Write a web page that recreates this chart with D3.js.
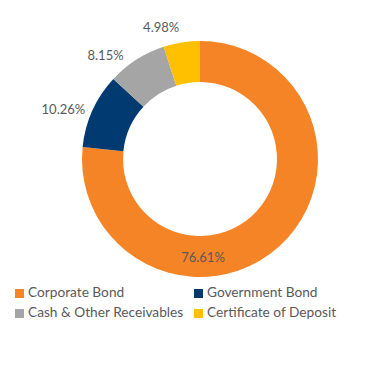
<!DOCTYPE html>
<html>
	<head>
		<meta charset="utf-8">
		<title>Portfolio Allocation</title>
		<script src="https://d3js.org/d3.v7.min.js"></script>
		<style type="text/css">
			body { margin: 0; background: #fff; }
			text { font-family: Lato, sans-serif; fill: #595959; }
		</style>
	</head>
	<body>
		<script type="text/javascript">

			// data
			var categories = ['Corporate Bond', 'Government Bond', 'Cash & Other Receivables', 'Certificate of Deposit'];
			var values = [76.61, 10.26, 8.15, 4.98];
			var colors = ['#F58426', '#003A70', '#A5A5A5', '#FFC000'];

			var svgWidth = 369;
			var svgHeight = 390;
			var cx = 200, cy = 159;
			var outerR = 118, innerR = 77;

			var svg = d3.select('body')
				.append('svg')
				.attr('width', svgWidth)
				.attr('height', svgHeight);

			var pie = d3.pie().sort(null).value(function(d) { return d; });
			var arcs = pie(values);

			var arc = d3.arc().innerRadius(innerR).outerRadius(outerR);

			var g = svg.append('g')
				.attr('transform', 'translate(' + cx + ',' + cy + ')');

			g.selectAll('path')
				.data(arcs)
				.enter()
				.append('path')
				.attr('d', arc)
				.attr('fill', function(d, i) { return colors[i]; });

			// labels: big slice inside at bottom, small ones outside
			var labelR = 127;
			var nudge = [[0, 2], [1, 4], [-8, 5], [-1, -5]];  // little manual fixes
			function isBig(d) { return (d.endAngle - d.startAngle) > Math.PI; }

			g.selectAll('text.lbl')
				.data(arcs)
				.enter()
				.append('text')
				.attr('class', 'lbl')
				.attr('font-size', '13px')
				.attr('dominant-baseline', 'middle')
				.attr('text-anchor', function(d) { return isBig(d) ? 'middle' : 'end'; })
				.attr('x', function(d, i) {
					if (isBig(d)) return 3 + nudge[i][0];
					var a = (d.startAngle + d.endAngle) / 2;
					return labelR * Math.sin(a) + nudge[i][0];
				})
				.attr('y', function(d, i) {
					if (isBig(d)) return (innerR + outerR) / 2 + nudge[i][1];
					var a = (d.startAngle + d.endAngle) / 2;
					return -labelR * Math.cos(a) + nudge[i][1];
				})
				.text(function(d) { return d3.format('.2f')(d.value) + '%'; });

			// legend
			var legX = [15, 194];
			var legY = [293.5, 313.5];
			var legend = svg.selectAll('g.leg')
				.data(categories)
				.enter()
				.append('g')
				.attr('class', 'leg')
				.attr('transform', function(d, i) {
					return 'translate(' + legX[i % 2] + ',' + legY[Math.floor(i / 2)] + ')';
				});

			legend.append('rect')
				.attr('x', 0)
				.attr('y', -4.5)
				.attr('width', 9)
				.attr('height', 9)
				.attr('fill', function(d, i) { return colors[i]; });

			legend.append('text')
				.attr('x', 13)
				.attr('y', 0)
				.attr('dominant-baseline', 'middle')
				.attr('font-size', '13.7px')
				.text(function(d) { return d; });

		</script>
	</body>
</html>
